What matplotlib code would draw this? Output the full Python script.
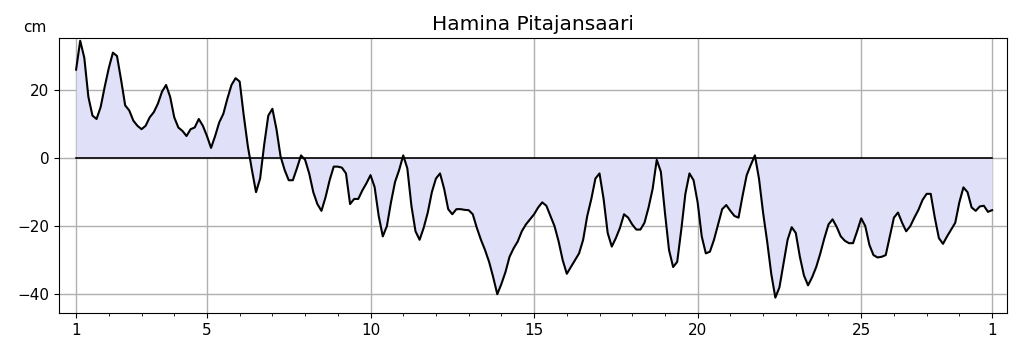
import numpy as np
import matplotlib
matplotlib.use("Agg")
import matplotlib.pyplot as plt

station = "Hamina Pitajansaari"
unit = "cm"

# sea level every 3 hours, from day 1 00:00 to day 1 of next month
start_day = 1
step_hours = 3
level = [
    26, 34.5, 29.5, 18, 12.5, 11.5, 15, 21, 26.5, 31, 30, 23, 15.5, 14, 11, 9.5,
    8.5, 9.5, 12, 13.5, 16, 19.5, 21.5, 18, 12, 9, 8, 6.5, 8.5, 9, 11.5, 9.5,
    6.5, 3, 6.5, 10.5, 13, 17.5, 21.5, 23.5, 22.5, 12.5, 3.5, -3.5, -10, -6, 4, 12.5,
    14.5, 8.5, 0.5, -3.5, -6.5, -6.5, -3, 0.8, -0.5, -4.5, -10, -13.5, -15.5, -11.5, -6.5, -2.5,
    -2.5, -2.8, -4.5, -13.5, -12, -12, -9.5, -7.4, -5, -8.5, -17, -23, -20, -13, -7, -3.5,
    0.8, -3, -14, -21.5, -24, -20.5, -16, -10, -6, -4.5, -9, -15, -16.5, -15, -15, -15.2,
    -15.3, -16.5, -20.5, -24, -27, -30.5, -35, -40, -37, -33.5, -29, -26.5, -24.5, -21.5, -19.5, -18,
    -16.5, -14.5, -13, -14, -17, -20, -24.5, -30, -34, -32, -30, -28, -24, -17, -12, -6,
    -4.5, -12, -22, -26, -23.5, -20.5, -16.5, -17.5, -19.5, -21, -21, -19, -14.5, -9, -0.5, -4,
    -16, -27, -32, -30.5, -21, -10.5, -4.5, -6.5, -13, -23, -28, -27.5, -24, -19.5, -15, -13.8,
    -15.5, -17, -17.5, -11, -5, -2, 0.8, -6, -16, -24.5, -34, -41, -38, -31, -24, -20.3,
    -22, -29, -34.5, -37.4, -35, -32, -28, -23.5, -19.5, -18, -20.2, -23, -24.3, -25, -25, -21.5,
    -17.7, -20, -25.5, -28.5, -29.2, -29, -28.5, -23, -17.5, -16, -19, -21.5, -20, -17.5, -15.2, -12.3,
    -10.5, -10.5, -17.5, -23.5, -25.2, -23, -21, -19, -13, -8.6, -10, -14.5, -15.5, -14.2, -14, -15.8,
    -15.3,
]
major_days = [1, 5, 10, 15, 20, 25, 29]
major_labels = ["1", "5", "10", "15", "20", "25", "1"]

level = np.array(level)
days = start_day + np.arange(len(level)) * step_hours / 24.0

fig = plt.figure(figsize=(10.19, 3.52), dpi=100)
ax = fig.add_axes([0.058, 0.111, 0.930, 0.781])

ax.fill_between(days, level, 0, color="#e0e0f8", linewidth=0)
ax.plot([days[0], days[-1]], [0, 0], color="black", lw=1.2)
ax.plot(days, level, color="black", lw=1.5)

ax.set_xlim(0.48, 29.45)
ax.set_ylim(-45.5, 35.3)
ax.set_xticks(major_days)
ax.set_xticklabels(major_labels)
ax.set_xticks(np.arange(1, 30), minor=True)
ax.set_yticks([-40, -20, 0, 20])
ax.set_yticklabels(["\u221240", "\u221220", "0", "20"])
ax.tick_params(labelsize=11)
ax.grid(True, color="#b0b0b0", lw=1)
ax.set_axisbelow(True)

ax.set_title(station, fontsize=14.5, pad=6)
fig.text(35 / 1019, 1 - 27 / 352, unit, fontsize=11, ha="center", va="center")

fig.savefig("out.png", dpi=100)
